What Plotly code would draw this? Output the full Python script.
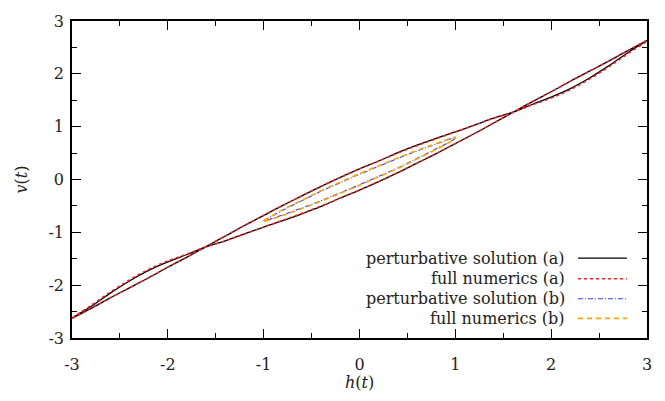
import plotly.graph_objects as go

# ---------------- data ----------------
# loop (a): h grid, branch that is upper in the middle region, and the other branch
h_a = [-3.0, -2.8, -2.6, -2.4, -2.2, -2.0, -1.8, -1.61, -1.4, -1.2, -1.0, -0.8, -0.6, -0.4,
       -0.2, 0.0, 0.2, 0.4, 0.6, 0.8, 1.0, 1.2, 1.4, 1.61, 1.8, 2.0, 2.2, 2.4, 2.6, 2.8, 3.0]
v_up_pert_a = [-2.63, -2.44, -2.24, -2.05, -1.86, -1.66, -1.47, -1.28, -1.07, -0.87, -0.68, -0.49,
               -0.31, -0.13, 0.04, 0.20, 0.35, 0.51, 0.65, 0.78, 0.90, 1.03, 1.16, 1.28,
               1.42, 1.56, 1.72, 1.92, 2.15, 2.40, 2.63]
v_lo_pert_a = [-2.63, -2.40, -2.15, -1.92, -1.72, -1.56, -1.42, -1.28, -1.16, -1.03, -0.90, -0.78,
               -0.65, -0.51, -0.35, -0.20, -0.04, 0.13, 0.31, 0.49, 0.68, 0.87, 1.07, 1.28,
               1.47, 1.66, 1.86, 2.05, 2.24, 2.44, 2.63]
v_up_num_a = [-2.63, -2.44, -2.24, -2.05, -1.86, -1.66, -1.47, -1.28, -1.07, -0.87, -0.68, -0.49,
              -0.31, -0.13, 0.04, 0.20, 0.35, 0.50, 0.64, 0.77, 0.90, 1.03, 1.16, 1.28,
              1.41, 1.54, 1.70, 1.90, 2.13, 2.38, 2.62]
v_lo_num_a = [-2.62, -2.38, -2.13, -1.90, -1.70, -1.54, -1.41, -1.28, -1.16, -1.03, -0.90, -0.77,
              -0.64, -0.50, -0.35, -0.20, -0.04, 0.13, 0.31, 0.49, 0.68, 0.87, 1.07, 1.28,
              1.47, 1.66, 1.86, 2.05, 2.24, 2.44, 2.63]

# loop (b)
h_b = [-1.0, -0.8, -0.6, -0.4, -0.2, 0.0, 0.2, 0.4, 0.6, 0.8, 1.0]
v_up_pert_b = [-0.78, -0.58, -0.40, -0.22, -0.06, 0.10, 0.25, 0.40, 0.54, 0.67, 0.79]
v_lo_pert_b = [-0.79, -0.67, -0.54, -0.40, -0.25, -0.10, 0.06, 0.22, 0.40, 0.58, 0.78]
v_up_num_b = [-0.78, -0.57, -0.39, -0.21, -0.05, 0.11, 0.26, 0.41, 0.55, 0.68, 0.80]
v_lo_num_b = [-0.80, -0.68, -0.55, -0.41, -0.26, -0.11, 0.05, 0.21, 0.39, 0.57, 0.78]

x_ticks = [-3, -2, -1, 0, 1, 2, 3]
y_ticks = [-3, -2, -1, 0, 1, 2, 3]
tick_labels = ["-3", "-2", "-1", "0", "1", "2", "3"]
minor_ticks = [-2.5, -1.5, -0.5, 0.5, 1.5, 2.5]

legend_names = ["perturbative solution (a)", "full numerics (a)",
                "perturbative solution (b)", "full numerics (b)"]
x_title = "<i>h</i>(<i>t</i>)"
y_title = "<i>v</i>(<i>t</i>)"

# ---------------- styles ----------------
styles = [dict(color="#000000", width=1.3, dash="solid"),
          dict(color="#ff2020", width=1.5, dash="3px,3px"),
          dict(color="#3a3aff", width=1.1, dash="5px,2px,1px,2px"),
          dict(color="#ffa500", width=1.6, dash="5px,4px")]

FONT = "DejaVu Serif"
TXT = "#222222"


def loop(h, up, lo):
    return list(h) + list(reversed(h)), list(up) + list(reversed(lo))


series = [loop(h_a, v_up_pert_a, v_lo_pert_a),
          loop(h_a, v_up_num_a, v_lo_num_a),
          loop(h_b, v_up_pert_b, v_lo_pert_b),
          loop(h_b, v_up_num_b, v_lo_num_b)]

fig = go.Figure()
for (xs, ys), st, name in zip(series, styles, legend_names):
    fig.add_trace(go.Scatter(x=xs, y=ys, mode="lines", name=name, line=st,
                             line_shape="spline", showlegend=False))

# legend (gnuplot style: text right-aligned, sample to the right)
leg_y = [0.252, 0.187, 0.124, 0.062]
for name, st, yy in zip(legend_names, styles, leg_y):
    fig.add_annotation(x=0.86, y=yy, xref="paper", yref="paper", text=name,
                       showarrow=False, xanchor="right", yanchor="middle",
                       font=dict(family=FONT, size=16, color=TXT))
    fig.add_shape(type="line", xref="paper", yref="paper", x0=0.88, x1=0.965,
                  y0=yy, y1=yy, line=st)

# axis titles
fig.add_annotation(x=0.5, y=-0.139, xref="paper", yref="paper", text=x_title,
                   showarrow=False, xanchor="center", yanchor="middle",
                   font=dict(family=FONT, size=16, color=TXT))
fig.add_annotation(x=-0.087, y=0.5, xref="paper", yref="paper", text=y_title,
                   showarrow=False, xanchor="center", yanchor="middle", textangle=-90,
                   font=dict(family=FONT, size=16, color=TXT))

axis_common = dict(
    showline=True, linecolor="black", linewidth=1.5, mirror="ticks",
    ticks="inside", ticklen=9, tickwidth=1, tickcolor="black",
    showgrid=False, zeroline=False, tickmode="array",
    tickfont=dict(family=FONT, size=16, color=TXT),
    minor=dict(tickmode="array", tickvals=minor_ticks, ticks="inside",
               ticklen=5, tickwidth=1, tickcolor="black", showgrid=False),
)

fig.update_layout(
    width=665, height=401,
    margin=dict(l=72, r=18, t=15, b=63),
    plot_bgcolor="white", paper_bgcolor="white",
    xaxis=dict(range=[-3, 3], tickvals=x_ticks, ticktext=tick_labels,
               ticklabelstandoff=11, **axis_common),
    yaxis=dict(range=[-3, 3], tickvals=y_ticks, ticktext=tick_labels,
               ticklabelstandoff=3, **axis_common),
)

fig.write_html("out.html")
